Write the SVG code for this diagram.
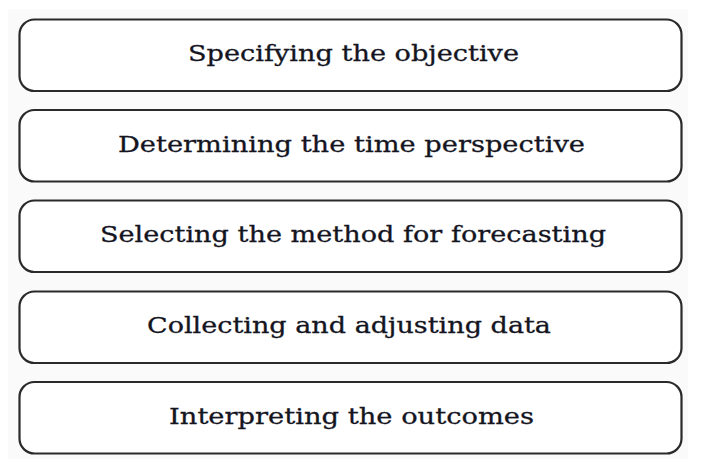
<svg xmlns="http://www.w3.org/2000/svg" width="725" height="459" viewBox="0 0 725 459">
  <style>
    .box { fill: #ffffff; stroke: #2a2a2a; stroke-width: 2.2; }
    .label { font-family: "DejaVu Serif", "Liberation Serif", serif; font-size: 22.5px; fill: #15151f; stroke: #15151f; stroke-width: 0.3; text-anchor: middle; }
  </style>
  <rect x="0" y="0" width="725" height="459" fill="#ffffff"/>
  <rect x="8" y="9" width="680" height="450" fill="#fafafa"/>

  <g id="connectors"></g>

  <g id="step1">
    <rect class="box" x="19.5" y="19.5" width="662" height="71.5" rx="15"/>
    <text class="label" x="353.5" y="61" textLength="331" lengthAdjust="spacingAndGlyphs">Specifying the objective</text>
  </g>
  <g id="step2">
    <rect class="box" x="19.5" y="110" width="662" height="71.5" rx="15"/>
    <text class="label" x="351.5" y="152" textLength="467" lengthAdjust="spacingAndGlyphs">Determining the time perspective</text>
  </g>
  <g id="step3">
    <rect class="box" x="19.5" y="200.5" width="662" height="71.5" rx="15"/>
    <text class="label" x="353" y="242" textLength="506" lengthAdjust="spacingAndGlyphs">Selecting the method for forecasting</text>
  </g>
  <g id="step4">
    <rect class="box" x="19.5" y="291.5" width="662" height="71.5" rx="15"/>
    <text class="label" x="349" y="333" textLength="404" lengthAdjust="spacingAndGlyphs">Collecting and adjusting data</text>
  </g>
  <g id="step5">
    <rect class="box" x="19.5" y="382" width="662" height="71.5" rx="15"/>
    <text class="label" x="351.5" y="424" textLength="365" lengthAdjust="spacingAndGlyphs">Interpreting the outcomes</text>
  </g>
</svg>
